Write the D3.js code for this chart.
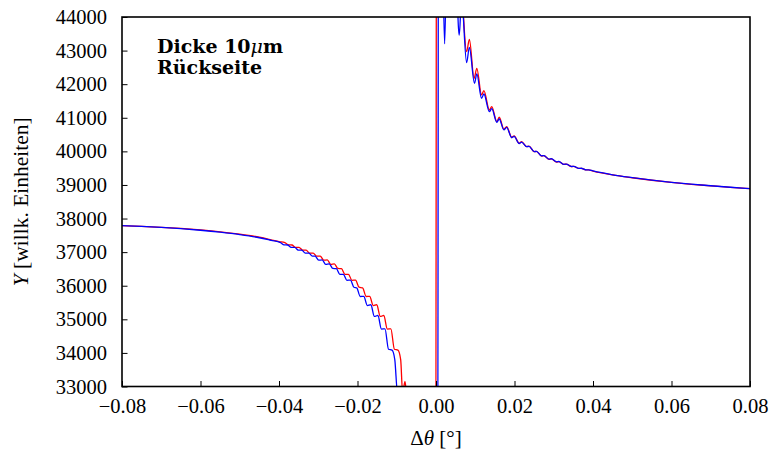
<!DOCTYPE html>
<html><head><meta charset="utf-8">
<script src="https://cdn.jsdelivr.net/npm/d3@7"></script>
<style>body{margin:0;background:#fff}svg{display:block}</style>
</head><body><svg id="c" width="771" height="451"></svg>
<script>
const xTicks = [-0.08,-0.06,-0.04,-0.02,0.00,0.02,0.04,0.06,0.08];
const yTicks = [33000,34000,35000,36000,37000,38000,39000,40000,41000,42000,43000,44000];

const redX = [-0.0800,-0.0750,-0.0700,-0.0650,-0.0600,-0.0550,-0.0500,-0.0450,-0.0400,
 -0.0385,-0.0376,-0.0367,-0.0358,-0.0349,-0.0340,-0.0331,-0.0322,-0.0313,-0.0304,-0.0295,-0.0286,-0.0277,-0.0268,-0.0259,-0.0250,
 -0.0241,-0.0232,-0.0223,-0.0214,-0.0205,-0.0196,-0.0187,-0.0178,-0.0169,-0.0160,-0.0151,-0.0142,-0.0133,-0.0124,-0.0115,-0.0106,
 -0.0097,-0.0090,-0.0085,-0.0079,-0.0074,-0.0040,-0.0001,0.0002,0.0030,0.0068,
 0.0078,0.0085,0.0097,0.0104,0.0116,0.0122,0.0136,0.0142,0.0155,0.0161,0.0173,0.0180,0.0193,0.0199,0.0212,0.0218,
 0.0231,0.0237,0.0250,0.0256,0.0269,0.0275,0.0288,0.0294,0.0307,0.0313,0.0326,0.0332,0.0345,0.0351,0.0364,0.0370,0.0383,0.0389,
 0.0400,0.0450,0.0500,0.0550,0.0600,0.0650,0.0700,0.0750,0.0800];
const redY = [37790,37768,37740,37705,37660,37605,37535,37445,37315,
 37285,37215,37213,37140,37141,37060,37057,36970,36973,36880,36883,36760,36768,36638,36652,36515,
 36509,36340,36338,36160,36168,35955,35938,35680,35685,35410,35434,35085,35114,34710,34717,34110,
 34082,33800,32800,33150,32600,30000,26000,56000,56000,44400,
 42967,43336,42175,42473,41679,41807,41232,41330,40884,41015,40658,40735,40420,40458,40241,40289,
 40142,40154,39993,39999,39862,39874,39763,39778,39684,39696,39612,39620,39547,39551,39491,39494,39446,39447,
 39415,39300,39215,39140,39075,39020,38975,38930,38890];

const blueX = [-0.0800,-0.0750,-0.0700,-0.0650,-0.0600,-0.0550,-0.0500,-0.0450,-0.0420,
 -0.0396,-0.0387,-0.0378,-0.0369,-0.0360,-0.0351,-0.0342,-0.0333,-0.0324,-0.0315,
 -0.0308,-0.0299,-0.0290,-0.0281,-0.0272,-0.0263,-0.0254,-0.0245,-0.0236,-0.0227,-0.0218,-0.0209,
 -0.0202,-0.0193,-0.0184,-0.0175,-0.0166,-0.0157,-0.0148,-0.0139,-0.0130,-0.0121,-0.0112,
 -0.0105,-0.0098,-0.0093,-0.0087,-0.0040,0.0004,0.0007,0.0017,0.0022,0.0027,0.0040,0.0055,0.0056,0.0059,0.0062,0.0063,0.0068,
 0.0078,0.0085,0.0098,0.0104,0.0116,0.0122,0.0136,0.0142,0.0155,0.0161,0.0173,0.0180,0.0193,0.0199,0.0212,0.0218,
 0.0231,0.0237,0.0250,0.0256,0.0269,0.0275,0.0288,0.0294,0.0307,0.0313,0.0326,0.0332,0.0345,0.0351,0.0364,0.0370,0.0383,0.0389,
 0.0400,0.0450,0.0500,0.0550,0.0600,0.0650,0.0700,0.0750,0.0800];
const blueY = [37790,37764,37735,37699,37652,37594,37522,37428,37350,
 37285,37215,37213,37140,37141,37060,37057,36970,36973,36880,
 36883,36760,36768,36638,36652,36515,36509,36340,36338,36160,36168,35955,
 35938,35680,35685,35410,35434,35085,35114,34710,34717,34110,34082,
 33800,32800,32950,32500,30000,26000,56000,46000,43200,46000,50000,45000,44000,43460,44000,45000,44300,
 42640,43098,42027,42304,41580,41708,41182,41271,40866,40964,40640,40715,40405,40445,40232,40275,
 40140,40150,39993,39999,39864,39876,39766,39780,39687,39699,39615,39623,39550,39554,39494,39497,39449,39450,
 39418,39303,39218,39143,39078,39023,38977,38932,38891];

const W = 771, H = 451;
const m = {left:122, right:21, top:17, bottom:64.5};
const svg = d3.select('#c');
const x = d3.scaleLinear().domain([-0.08,0.08]).range([m.left, W-m.right]);
const y = d3.scaleLinear().domain([33000,44000]).range([H-m.bottom, m.top]);

svg.append('defs').append('clipPath').attr('id','clip').append('rect')
  .attr('x',m.left).attr('y',m.top).attr('width',W-m.left-m.right).attr('height',H-m.top-m.bottom);

const line = d3.line().curve(d3.curveMonotoneX).x(d=>x(d[0])).y(d=>y(d[1]));
const red = redX.map((v,i)=>[v,redY[i]]);
const blue = blueX.map((v,i)=>[v,blueY[i]]);
const g = svg.append('g').attr('clip-path','url(#clip)');
g.append('path').datum(red).attr('d',line).attr('fill','none').attr('stroke','#ff0000').attr('stroke-width',1.3).attr('stroke-linejoin','round');
g.append('path').datum(blue).attr('d',line).attr('fill','none').attr('stroke','#0000ff').attr('stroke-width',1.3).attr('stroke-linejoin','round');

const fmt = v => (v<0?'\u2212':'') + Math.abs(v).toFixed(2);
const xAxis = d3.axisBottom(x).tickValues(xTicks).tickSize(-5.5).tickPadding(12).tickFormat(fmt);
const yAxis = d3.axisLeft(y).tickValues(yTicks).tickSize(-5.5).tickPadding(15).tickFormat(d3.format('d'));
const gx = svg.append('g').attr('transform',`translate(0,${H-m.bottom})`).call(xAxis);
const gy = svg.append('g').attr('transform',`translate(${m.left},0)`).call(yAxis);
[gx,gy].forEach(a=>{
  a.select('.domain').remove();
  a.selectAll('line').attr('stroke','#000').attr('stroke-width',1);
  a.selectAll('text').attr('font-family','"Liberation Serif", serif').attr('font-size',20.5).attr('fill','#000');
});
gx.selectAll('text').attr('dy','0.71em');

svg.append('rect').attr('x',m.left).attr('y',m.top).attr('width',W-m.left-m.right).attr('height',H-m.top-m.bottom)
  .attr('fill','none').attr('stroke','#000').attr('stroke-width',1.6);

const xt = svg.append('text').attr('x',(m.left+W-m.right)/2).attr('y',445).attr('text-anchor','middle')
  .attr('font-family','"Liberation Serif", serif').attr('font-size',21);
xt.append('tspan').text('\u0394');
xt.append('tspan').attr('font-style','italic').text('\u03B8');
xt.append('tspan').text(' [\u00B0]');

const yt = svg.append('text').attr('transform',`translate(28,${(m.top+H-m.bottom)/2}) rotate(-90)`).attr('text-anchor','middle')
  .attr('font-family','"Liberation Serif", serif').attr('font-size',21.5);
yt.append('tspan').attr('font-style','italic').text('Y');
yt.append('tspan').text(' [willk. Einheiten]');

const lab = svg.append('g').attr('font-family','"DejaVu Serif", serif').attr('font-weight','bold').attr('font-size',19);
const l1 = lab.append('text').attr('x',157).attr('y',53);
l1.append('tspan').text('Dicke 10');
l1.append('tspan').attr('font-style','italic').attr('font-weight','normal').text('\u03BC');
l1.append('tspan').text('m');
lab.append('text').attr('x',157).attr('y',74).text('R\u00FCckseite');
</script></body></html>
